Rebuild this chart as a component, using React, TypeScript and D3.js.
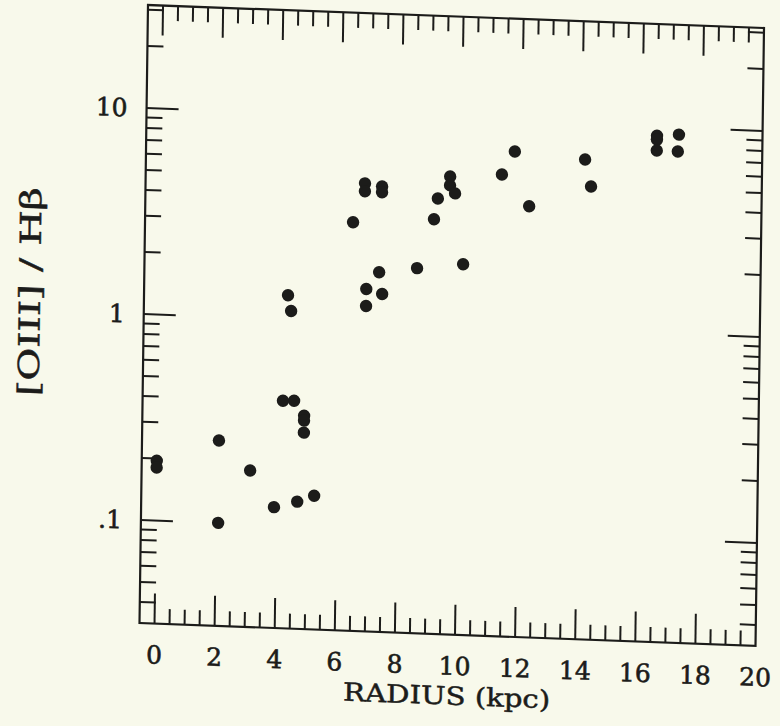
import React, { useEffect, useRef } from "react";
import * as d3 from "d3";

// radius (kpc) and [OIII]/Hbeta ratio
const radius = [
  0, 0, 2.06, 2.07, 3.11, 3.92, 4.69, 5.25, 4.17, 4.54, 4.88, 4.88, 4.88,
  4.29, 4.4, 6.42, 6.8, 6.8, 7.37, 7.37, 6.89, 6.89, 7.31, 7.42, 8.57, 9.11,
  9.23, 9.63, 9.63, 9.8, 10.1, 11.35, 11.77, 12.27, 14.11, 14.32, 16.49,
  16.49, 16.49, 17.22, 17.19,
];
const ratio = [
  0.195, 0.181, 0.251, 0.1, 0.182, 0.122, 0.131, 0.141, 0.402, 0.404, 0.343,
  0.325, 0.284, 1.31, 1.1, 3.04, 4.72, 4.32, 4.59, 4.3, 1.45, 1.2, 1.76, 1.38,
  1.87, 3.25, 4.11, 5.28, 4.78, 4.38, 1.99, 5.52, 7.17, 3.91, 6.75, 5.01,
  9.08, 8.69, 7.69, 9.27, 7.67,
];

const xTickLabels = [0, 2, 4, 6, 8, 10, 12, 14, 16, 18, 20];
const yTickValues = [0.1, 1, 10];
const yTickLabels = [".1", "1", "10"];
const xTitle = "RADIUS (kpc)";
const yTitle = "[OIII] / H\u03b2";

const ink = "#1c1c1a";

const ScanPlot = () => {
  const svgRef = useRef(null);

  useEffect(() => {
    const svg = d3.select(svgRef.current);
    svg.selectAll("*").remove();

    const width = 780;
    const height = 726;
    const w = 616;
    const h = 618;

    svg.attr("width", width).attr("height", height);
    svg
      .append("rect")
      .attr("width", width)
      .attr("height", height)
      .attr("fill", "#f8f9eb");

    // the scan is slightly tilted / sheared
    const g = svg
      .append("g")
      .attr("transform", "matrix(1,0.0373,-0.01375,1,148,5)");

    const x = d3.scaleLinear().domain([-0.5, 20]).range([0, w]);
    const y = d3
      .scaleLog()
      .domain([Math.pow(10, -1.5), Math.pow(10, 1.5)])
      .range([h, 0]);

    // frame
    g.append("rect")
      .attr("width", w)
      .attr("height", h)
      .attr("fill", "none")
      .attr("stroke", ink)
      .attr("stroke-width", 2.2);

    // x ticks on top and bottom, pointing inward
    const xt = x.ticks(40).filter((d) => d > -0.5 && d < 20);
    xt.forEach((d) => {
      const len = d % 2 === 0 ? 30 : 15;
      g.append("line")
        .attr("x1", x(d))
        .attr("x2", x(d))
        .attr("y1", h)
        .attr("y2", h - len)
        .attr("stroke", ink)
        .attr("stroke-width", 2);
      g.append("line")
        .attr("x1", x(d))
        .attr("x2", x(d))
        .attr("y1", 0)
        .attr("y2", len)
        .attr("stroke", ink)
        .attr("stroke-width", 2);
    });

    // y ticks left and right (log minors)
    const yt = y.ticks();
    yt.forEach((d) => {
      const major = Math.abs(Math.log10(d) - Math.round(Math.log10(d))) < 1e-6;
      const len = major ? 32 : 16;
      g.append("line")
        .attr("x1", 0)
        .attr("x2", len)
        .attr("y1", y(d))
        .attr("y2", y(d))
        .attr("stroke", ink)
        .attr("stroke-width", 2);
      g.append("line")
        .attr("x1", w)
        .attr("x2", w - len)
        .attr("y1", y(d))
        .attr("y2", y(d))
        .attr("stroke", ink)
        .attr("stroke-width", 2);
    });

    // tick labels
    g.selectAll(".xlab")
      .data(xTickLabels)
      .join("text")
      .attr("x", (d) => x(d))
      .attr("y", h + 40)
      .attr("text-anchor", "middle")
      .attr("font-family", "DejaVu Serif")
      .attr("font-size", 25)
      .attr("fill", ink)
      .attr("stroke", ink)
      .attr("stroke-width", 0.6)
      .text((d) => d);

    g.selectAll(".ylab")
      .data(yTickValues)
      .join("text")
      .attr("x", -19)
      .attr("y", (d) => y(d))
      .attr("dy", "0.36em")
      .attr("text-anchor", "end")
      .attr("font-family", "DejaVu Serif")
      .attr("font-size", 25)
      .attr("fill", ink)
      .attr("stroke", ink)
      .attr("stroke-width", 0.6)
      .text((d, i) => yTickLabels[i]);

    // axis titles
    g.append("text")
      .attr("x", w / 2)
      .attr("y", h + 70)
      .attr("text-anchor", "middle")
      .attr("font-family", "DejaVu Serif")
      .attr("font-size", 25)
      .attr("textLength", 207)
      .attr("lengthAdjust", "spacingAndGlyphs")
      .attr("fill", ink)
      .attr("stroke", ink)
      .attr("stroke-width", 0.5)
      .text(xTitle);

    g.append("text")
      .attr("transform", `translate(-104,291) rotate(-90)`)
      .attr("text-anchor", "middle")
      .attr("font-family", "DejaVu Serif")
      .attr("font-size", 29)
      .attr("textLength", 209)
      .attr("lengthAdjust", "spacingAndGlyphs")
      .attr("fill", ink)
      .attr("stroke", ink)
      .attr("stroke-width", 0.5)
      .text(yTitle);

    // points
    g.selectAll(".pt")
      .data(radius.map((r, i) => [r, ratio[i]]))
      .join("circle")
      .attr("cx", (d) => x(d[0]))
      .attr("cy", (d) => y(d[1]))
      .attr("r", 6.2)
      .attr("fill", ink);
  }, []);

  return <svg ref={svgRef}></svg>;
};

export default function App() {
  return (
    <div style={{ position: "absolute", left: 0, top: 0 }}>
      <ScanPlot />
    </div>
  );
}
